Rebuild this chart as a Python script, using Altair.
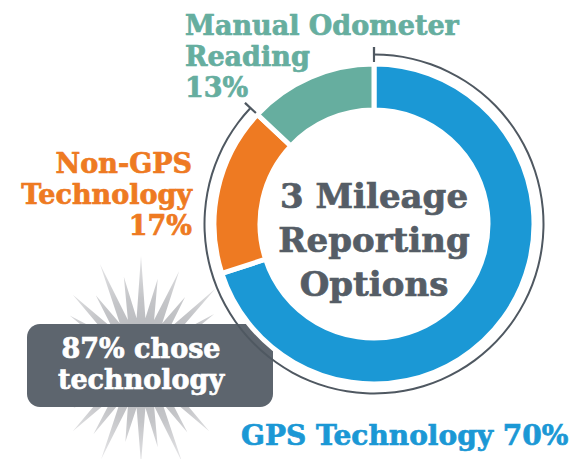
import math
import altair as alt
import pandas as pd

# ---- data ----
categories = ["GPS Technology", "Non-GPS Technology", "Manual Odometer Reading"]
shares = [70, 17, 13]
colors = ["#1b98d5", "#ee7a22", "#66ae9f"]
tech_categories = ["GPS Technology", "Non-GPS Technology"]

center_lines = ["3 Mileage", "Reporting", "Options"]
manual_lines = ["Manual Odometer", "Reading", "13%"]
nongps_lines = ["Non-GPS", "Technology", "17%"]
gps_label = "GPS Technology 70%"
callout_lines = ["87% chose", "technology"]

# decoration: starburst spike lengths (relative)
spike_len = [1.0, 0.8, 0.93, 0.74, 0.98, 0.82, 0.9, 0.75, 1.0, 0.83, 0.95, 0.74,
             0.9, 0.78, 1.0, 0.8, 0.94, 0.75, 0.97, 0.8, 0.9, 0.76, 1.0, 0.8,
             0.92, 0.74, 0.96, 0.8, 0.9, 0.76, 1.0, 0.82]

FONT = "DejaVu Serif"
CX, CY = 366, 216

donut_df = pd.DataFrame({"category": categories, "value": shares,
                         "idx": list(range(len(categories)))})

tech_total = sum(v for c, v in zip(categories, shares) if c in tech_categories)
total = sum(shares)
bracket_df = pd.DataFrame({"start": [0.0], "end": [2 * math.pi * tech_total / total]})
tick_df = pd.DataFrame({"ang": [0.0, 2 * math.pi * tech_total / total]})

# star path
n = len(spike_len)
pts = []
for i, L in enumerate(spike_len):
    a = 2 * math.pi * i / n
    pts.append((L * math.sin(a), -L * math.cos(a)))
    b = a + math.pi / n
    pts.append((0.42 * math.sin(b), -0.42 * math.cos(b)))
star_path = "M" + " L".join(f"{x:.3f},{y:.3f}" for x, y in pts) + " Z"

one = pd.DataFrame({"k": [0]})

star = alt.Chart(one).mark_point(
    shape=star_path, filled=True, strokeWidth=0, opacity=1,
    fill=alt.RadialGradient(gradient="radial",
                            stops=[alt.GradientStop(offset=0, color="#b0b2b6"),
                                   alt.GradientStop(offset=0.6, color="#c4c5c8"),
                                   alt.GradientStop(offset=1, color="#e4e4e6")]),
).encode(x=alt.value(133), y=alt.value(355), size=alt.value(46000))

box = alt.Chart(one).mark_rect(color="#5d656e", cornerRadius=13).encode(
    x=alt.value(19), x2=alt.value(265), y=alt.value(316), y2=alt.value(399))

def text_layer(lines, x, y, size, color, align, lh, sw=0.7):
    return alt.Chart(pd.DataFrame({"t": ["\n".join(lines)]})).mark_text(
        font=FONT, fontWeight="bold", fontSize=size, color=color, align=align,
        baseline="alphabetic", lineBreak="\n", lineHeight=lh,
        stroke=color, strokeWidth=sw
    ).encode(text="t:N", x=alt.value(x), y=alt.value(y))

callout = text_layer(callout_lines, 133, 350, 27, "white", "center", 31)

donut = alt.Chart(donut_df).mark_arc(
    innerRadius=114, outerRadius=160, stroke="white", strokeWidth=5
).encode(
    theta=alt.Theta("value:Q", stack=True),
    order=alt.Order("idx:Q"),
    color=alt.Color("category:N", scale=alt.Scale(domain=categories, range=colors), legend=None),
    x=alt.value(CX), y=alt.value(CY),
)

bracket = alt.Chart(bracket_df).mark_arc(
    innerRadius=168.5, outerRadius=170.5, color="#4f5861"
).encode(theta=alt.Theta("start:Q", scale=None), theta2="end:Q",
         x=alt.value(CX), y=alt.value(CY))

ticks = alt.Chart(tick_df).transform_calculate(
    a0="datum.ang - 0.0065", a1="datum.ang + 0.0065"
).mark_arc(innerRadius=162, outerRadius=177, color="#4f5861").encode(
    theta=alt.Theta("a0:Q", scale=None), theta2="a1:Q",
    x=alt.value(CX), y=alt.value(CY))

center_txt = text_layer(center_lines, CX, 200, 34, "#555d66", "center", 44)
manual_txt = text_layer(manual_lines, 177, 27, 27, "#66ae9f", "left", 31)
nongps_txt = text_layer(nongps_lines, 184, 165, 27, "#ee7a22", "right", 31)
gps_txt = text_layer([gps_label], 233, 437, 28, "#1b98d5", "left", 30)

chart = alt.layer(
    star, box, callout, donut, bracket, ticks, center_txt, manual_txt, nongps_txt, gps_txt
).properties(
    width=566, height=451, padding=0, autosize=alt.AutoSizeParams(type="none")
).configure_view(stroke=None)

chart.save("out.html", embed_options={"renderer": "svg", "actions": False})
